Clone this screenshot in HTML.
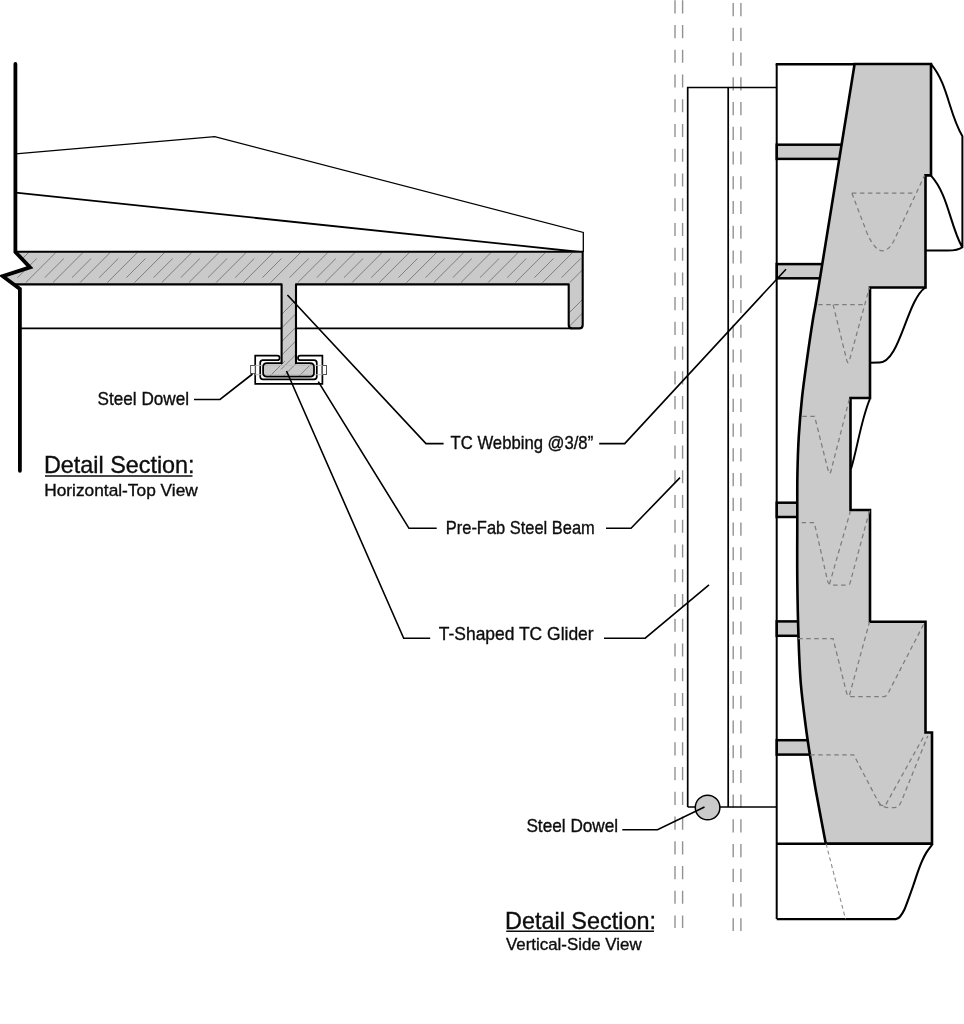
<!DOCTYPE html>
<html><head><meta charset="utf-8"><title>Detail Section</title>
<style>html,body{margin:0;padding:0;background:#fff;}body{width:964px;height:1024px;overflow:hidden;}svg{display:block;will-change:transform;}</style>
</head><body>
<svg width="964" height="1024" viewBox="0 0 964 1024">
<rect width="964" height="1024" fill="#fff"/>
<path d="M 15.6 153.8 L 214.7 136.7 L 583.3 232.4 L 583.3 252" fill="none" stroke="#000" stroke-width="1.3"/>
<path d="M 15.6 192.7 L 580 252" fill="none" stroke="#000" stroke-width="1.8"/>
<path d="M 19.5 328.4 L 572 328.4" fill="none" stroke="#000" stroke-width="1.7"/>
<defs><clipPath id="slabclip"><path d="M 15.5 251.7 L 582.7 251.7 L 582.7 324.9 Q 582.7 328.4 579.2 328.4 L 572.2 328.4 Q 568.7 328.4 568.7 324.9 L 568.7 284.4 L 296 284.4 L 296 363.2 L 310.2 363.2 Q 314 363.2 314 367 L 314 372.8 Q 314 376.6 310.2 376.6 L 266.9 376.6 Q 263.1 376.6 263.1 372.8 L 263.1 367 Q 263.1 363.2 266.9 363.2 L 281.6 363.2 L 281.6 284.4 L 19.5 284.4 L 19.5 289 L 2.8 276.2 L 30 267.4 Z"/></clipPath></defs>
<path d="M 255.2 355.6 L 277.3 355.6 A 2.3 2.3 0 0 1 277.3 360.2 L 263 360.2 Q 260.2 360.2 260.2 363 L 260.2 376.5 Q 260.2 379.3 263 379.3 L 314 379.3 Q 316.8 379.3 316.8 376.5 L 316.8 363 Q 316.8 360.2 314 360.2 L 300.3 360.2 A 2.3 2.3 0 0 1 300.3 355.6 L 322.4 355.6 L 322.4 383.8 L 255.2 383.8 Z" fill="#fff" stroke="#000" stroke-width="1.7" stroke-linejoin="miter"/>
<rect x="250.6" y="365.5" width="4.6" height="8.1" fill="#fff" stroke="#555" stroke-width="1"/>
<rect x="322.4" y="365.5" width="4.1" height="9" fill="#fff" stroke="#555" stroke-width="1"/>
<path d="M 15.5 251.7 L 582.7 251.7 L 582.7 324.9 Q 582.7 328.4 579.2 328.4 L 572.2 328.4 Q 568.7 328.4 568.7 324.9 L 568.7 284.4 L 296 284.4 L 296 363.2 L 310.2 363.2 Q 314 363.2 314 367 L 314 372.8 Q 314 376.6 310.2 376.6 L 266.9 376.6 Q 263.1 376.6 263.1 372.8 L 263.1 367 Q 263.1 363.2 266.9 363.2 L 281.6 363.2 L 281.6 284.4 L 19.5 284.4 L 19.5 289 L 2.8 276.2 L 30 267.4 Z" fill="#cacaca"/>
<g clip-path="url(#slabclip)"><path d="M -55.9 282.6 L -25.9 252.6 M -36.9 277.7 L -17.7 258.5 M -28.7 282.6 L 1.3 252.6 M -9.7 277.7 L 9.5 258.5 M -1.5 282.6 L 28.5 252.6 M 17.5 277.7 L 36.7 258.5 M 25.7 282.6 L 55.7 252.6 M 44.7 277.7 L 63.9 258.5 M 52.9 282.6 L 82.9 252.6 M 71.9 277.7 L 91.1 258.5 M 80.1 282.6 L 110.1 252.6 M 99.1 277.7 L 118.3 258.5 M 107.3 282.6 L 137.3 252.6 M 126.3 277.7 L 145.5 258.5 M 134.5 282.6 L 164.5 252.6 M 153.5 277.7 L 172.7 258.5 M 161.7 282.6 L 191.7 252.6 M 180.7 277.7 L 199.9 258.5 M 188.9 282.6 L 218.9 252.6 M 207.9 277.7 L 227.1 258.5 M 216.1 282.6 L 246.1 252.6 M 235.1 277.7 L 254.3 258.5 M 243.3 282.6 L 273.3 252.6 M 262.3 277.7 L 281.5 258.5 M 270.5 282.6 L 300.5 252.6 M 289.5 277.7 L 308.7 258.5 M 297.7 282.6 L 327.7 252.6 M 316.7 277.7 L 335.9 258.5 M 324.9 282.6 L 354.9 252.6 M 343.9 277.7 L 363.1 258.5 M 352.1 282.6 L 382.1 252.6 M 371.1 277.7 L 390.3 258.5 M 379.3 282.6 L 409.3 252.6 M 398.3 277.7 L 417.5 258.5 M 406.5 282.6 L 436.5 252.6 M 425.5 277.7 L 444.7 258.5 M 433.7 282.6 L 463.7 252.6 M 452.7 277.7 L 471.9 258.5 M 460.9 282.6 L 490.9 252.6 M 479.9 277.7 L 499.1 258.5 M 488.1 282.6 L 518.1 252.6 M 507.1 277.7 L 526.3 258.5 M 515.3 282.6 L 545.3 252.6 M 534.3 277.7 L 553.5 258.5 M 542.5 282.6 L 572.5 252.6 M 561.5 277.7 L 580.7 258.5 M 569.7 282.6 L 599.7 252.6 M 588.7 277.7 L 607.9 258.5 M 596.9 282.6 L 626.9 252.6 M 615.9 277.7 L 635.1 258.5 M 281 315 L 297 299 M 281 328.6 L 297 312.6 M 281 342.2 L 297 326.2 M 281 355.8 L 297 339.8 M 281 369.4 L 297 353.4 M 568 314 L 584 298 M 568 327.6 L 584 311.6 M 568 341.2 L 584 325.2 M 268 378 L 285 361 M 281.6 378 L 298.6 361 M 297.2 378 L 314.2 361 M 310.8 378 L 327.8 361" fill="none" stroke="#777" stroke-width="0.9"/></g>
<path d="M 255.2 365.4 L 322.4 365.4 M 255.2 374.7 L 322.4 374.7" fill="none" stroke="#bbb" stroke-width="0.9"/>
<path d="M 15.5 251.7 L 582.7 251.7 L 582.7 324.9 Q 582.7 328.4 579.2 328.4 L 572.2 328.4 Q 568.7 328.4 568.7 324.9 L 568.7 284.4 L 296 284.4 L 296 364 M 281.6 364 L 281.6 284.4 L 15 284.4" fill="none" stroke="#000" stroke-width="2.1" stroke-linejoin="round"/>
<path d="M 296 363.2 L 310.2 363.2 Q 314 363.2 314 367 L 314 372.8 Q 314 376.6 310.2 376.6 L 266.9 376.6 Q 263.1 376.6 263.1 372.8 L 263.1 367 Q 263.1 363.2 266.9 363.2 L 281.6 363.2" fill="none" stroke="#000" stroke-width="1.75" stroke-linejoin="round"/>
<path d="M 15.4 64 L 15.4 252 L 30 267.4 L 2.8 276.2 L 19.9 289 L 19.9 470.8" fill="none" stroke="#000" stroke-width="3.8" stroke-linecap="round" stroke-linejoin="miter" stroke-miterlimit="6"/>
<path d="M 675 0.3 L 675 928 M 682.6 0.3 L 682.6 928" fill="none" stroke="#929292" stroke-width="1.4" stroke-dasharray="13.1 11.635"/>
<path d="M 733.2 3.1 L 733.2 931 M 740.9 3.1 L 740.9 931" fill="none" stroke="#929292" stroke-width="1.4" stroke-dasharray="13.1 11.635"/>
<path d="M 687.7 807 L 687.7 87.5 L 776.7 87.5 M 728.2 87.5 L 728.2 807 M 687.7 807 L 776.7 807" fill="none" stroke="#000" stroke-width="1.7"/>
<circle cx="707.6" cy="807.5" r="12.3" fill="#cacaca" stroke="#000" stroke-width="1.5"/>
<rect x="776.7" y="144.7" width="70" height="14.2" fill="#cacaca" stroke="#000" stroke-width="2.5"/>
<rect x="776.7" y="264.1" width="70" height="14.2" fill="#cacaca" stroke="#000" stroke-width="2.5"/>
<rect x="776.7" y="502.7" width="70" height="14.3" fill="#cacaca" stroke="#000" stroke-width="2.5"/>
<rect x="776.7" y="621.4" width="70" height="14.4" fill="#cacaca" stroke="#000" stroke-width="2.5"/>
<rect x="776.7" y="740.2" width="70" height="14.4" fill="#cacaca" stroke="#000" stroke-width="2.5"/>
<path d="M 825.8 843.8 C 824.13 834.9 818.47 805.37 815.8 790.4 C 813.13 775.43 811.48 764.73 809.8 754 C 808.12 743.27 807.21 737.83 805.7 726 C 804.19 714.17 801.93 697.33 800.75 683 C 799.57 668.67 799.18 657.17 798.6 640 C 798.02 622.83 797.52 600 797.3 580 C 797.08 560 797.28 537.5 797.3 520 C 797.32 502.5 797.15 489 797.4 475 C 797.65 461 798.02 449 798.8 436 C 799.58 423 800.7 410 802.1 397 C 803.5 384 805.38 371 807.2 358 C 809.02 345 810.92 332 813 319 C 815.08 306 812.77 322.5 819.7 280 C 826.63 237.5 848.78 100 854.6 64 L 931 64 L 931 175.4 L 925.5 175.4 L 925.5 287.5 L 870 287.5 L 870 398 L 850.5 398 L 850.5 510 L 870 510 L 870 621.8 L 925.5 621.8 L 925.5 732.5 L 932 732.5 L 932 843.8 Z" fill="#cacaca" stroke="#000" stroke-width="2.6" stroke-linejoin="miter"/>
<path d="M 851.9 193.2 L 914.2 193.2 M 851.9 193.2 L 867 233 Q 875 251 882.5 250.8 Q 889 250.5 894 240.5 L 924.5 175.6 M 818.2 304.6 L 863.9 304.6 M 833.1 304.6 L 846.57 359.67 Q 848 365.5 849.59 359.72 L 869.5 287.5 M 802.3 416.3 L 814.6 416.3 Q 814.6 416.3 814.6 416.3 L 828.14 470.48 Q 829.6 476.3 831.09 470.49 L 849.5 398.5 M 801.6 522.6 L 814.3 522.6 Q 814.3 522.6 814.3 522.6 L 827.61 581.1 Q 828.5 585 832.5 585 L 847.5 585 Q 849.5 585 850.02 583.07 L 869.7 510.3 M 829.5 584 L 850.4 511.2 M 798.2 638.7 L 833.1 638.7 Q 833.1 638.7 833.1 638.7 L 846.53 692.62 Q 847.5 696.5 851.5 696.5 L 883.4 696.5 Q 886.4 696.5 887.77 693.83 L 924.8 622 M 849.5 695 L 869.5 622 M 810.2 754.8 L 853.7 754.8 Q 853.7 754.8 853.7 754.8 L 877.6 800.61 Q 881.3 807.7 889.3 807.7 L 892.8 807.7 Q 898.8 807.7 901.05 802.14 L 927.8 735.9 M 879 805 Q 879 805 879 805 L 885 806 Q 885 806 885 806 L 924.9 734.4" fill="none" stroke="#7d7d7d" stroke-width="1.25" stroke-dasharray="4.5 3.5"/>
<path d="M 776.7 64 L 776.7 919.1" fill="none" stroke="#000" stroke-width="2"/><path d="M 775.7 64.2 L 854.6 64.2" fill="none" stroke="#000" stroke-width="2.4"/>
<path d="M 930.9 63.9 C 948.33 84.43 948.66 113.14 962.4 136.2 L 962.4 247.3 Q 958 250.6 947.7 250.6 L 925.5 250.6 M 931 175.6 C 948.42 194.99 949.69 224.48 962.2 247.3" fill="none" stroke="#000" stroke-width="2"/>
<path d="M 925.3 287.5 C 906.41 300.62 899.8 363.34 879 362.6 L 870 362.8" fill="none" stroke="#000" stroke-width="2"/>
<path d="M 869.9 398.8 C 860.82 420.76 857.81 446.3 851 469.1" fill="none" stroke="#000" stroke-width="1.9"/>
<path d="M 776.7 843.8 L 932.2 843.8" fill="none" stroke="#000" stroke-width="2.5"/>
<path d="M 776.7 919.1 L 893 919.1 M 932.5 844.2 C 931.47 845.6 928.07 849.73 926.3 852.6 C 924.53 855.47 923.37 858.03 921.9 861.4 C 920.43 864.77 918.97 868.7 917.5 872.8 C 916.03 876.9 914.57 881.75 913.1 886 C 911.63 890.25 910.17 894.35 908.7 898.3 C 907.23 902.25 905.77 906.63 904.3 909.7 C 902.83 912.77 901.22 915.17 899.9 916.7 C 898.58 918.23 897.55 918.5 896.4 918.9 C 895.25 919.3 893.57 919.07 893 919.1" fill="none" stroke="#000" stroke-width="2.1"/>
<path d="M 826.1 843.8 L 845.5 919.1" fill="none" stroke="#8c8c8c" stroke-width="1.1" stroke-dasharray="4 3"/>
<path d="M 622.3 829.8 L 657.5 829.8 L 704.5 807" fill="none" stroke="#000" stroke-width="1.6"/>
<path d="M 287.4 295 L 426 443.6 L 443.6 443.6 M 599.2 443.6 L 624.7 443.6 L 786 269.2" fill="none" stroke="#000" stroke-width="1.6"/>
<path d="M 318.3 381.7 L 409 528.3 L 436.7 528.3 M 606 528.3 L 631 528.3 L 680 477.6" fill="none" stroke="#000" stroke-width="1.6"/>
<path d="M 286.5 371 L 403.7 638.2 L 430.2 638.2 M 604 638.2 L 645.2 638.2 L 709 584.9" fill="none" stroke="#000" stroke-width="1.6"/>
<path d="M 194 399.5 L 220 399.5 L 252.5 374" fill="none" stroke="#000" stroke-width="1.6"/>
<g font-family="Liberation Sans, sans-serif" fill="#0d0d0d" stroke="#0d0d0d" stroke-width="0.35">
<text x="97.6" y="405.2" font-size="17.8" textLength="91.4" lengthAdjust="spacingAndGlyphs">Steel Dowel</text>
<text x="44" y="473.4" font-size="23.6" textLength="150.6" lengthAdjust="spacingAndGlyphs">Detail Section:</text>
<text x="44.2" y="495.9" font-size="16.7" textLength="153.6" lengthAdjust="spacingAndGlyphs">Horizontal-Top View</text>
<text x="450.6" y="448.9" font-size="17.8" textLength="142.6" lengthAdjust="spacingAndGlyphs">TC Webbing @3/8”</text>
<text x="445.8" y="533.5" font-size="17.8" textLength="149" lengthAdjust="spacingAndGlyphs">Pre-Fab Steel Beam</text>
<text x="438.8" y="640" font-size="17.8" textLength="154.8" lengthAdjust="spacingAndGlyphs">T-Shaped TC Glider</text>
<text x="526.4" y="832.1" font-size="17.8" textLength="91.8" lengthAdjust="spacingAndGlyphs">Steel Dowel</text>
<text x="505" y="928.5" font-size="23.6" textLength="151" lengthAdjust="spacingAndGlyphs">Detail Section:</text>
<text x="506" y="950.3" font-size="16.7" textLength="135.6" lengthAdjust="spacingAndGlyphs">Vertical-Side View</text>
</g>
<path d="M 45 476 L 192.5 476 M 506.2 931.2 L 654 931.2" fill="none" stroke="#0d0d0d" stroke-width="1.4"/>
</svg>
</body></html>
